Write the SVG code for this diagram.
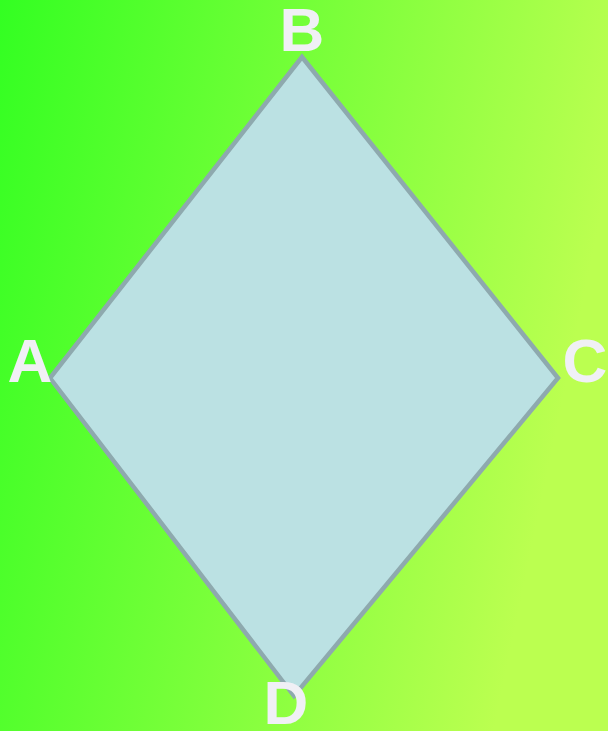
<svg xmlns="http://www.w3.org/2000/svg" width="608" height="731" viewBox="0 0 608 731">
  <defs>
    <linearGradient id="bg" x1="0" y1="0" x2="1" y2="0.25">
      <stop offset="0" stop-color="#33ff22"/>
      <stop offset="1" stop-color="#bbff50"/>
    </linearGradient>
    <style>
      .lbl { font-family: "Liberation Sans", Arial, sans-serif; font-weight: bold; font-size: 62px; fill: #f0f0f5; text-anchor: middle; }
      .shape { fill: #bbe1e3; stroke: #8ea9ae; stroke-width: 4.5; stroke-linejoin: miter; }
    </style>
  </defs>
  <rect x="0" y="0" width="608" height="731" fill="url(#bg)"/>
  <g id="rhombus">
    <polygon class="shape" points="302,57 558,378 294,696 50,378"/>
  </g>
  <g id="labels">
    <text id="label-B" class="lbl" x="302" y="51">B</text>
    <text id="label-A" class="lbl" x="30" y="382">A</text>
    <text id="label-C" class="lbl" x="585" y="382">C</text>
    <text id="label-D" class="lbl" x="286" y="724">D</text>
  </g>
</svg>
